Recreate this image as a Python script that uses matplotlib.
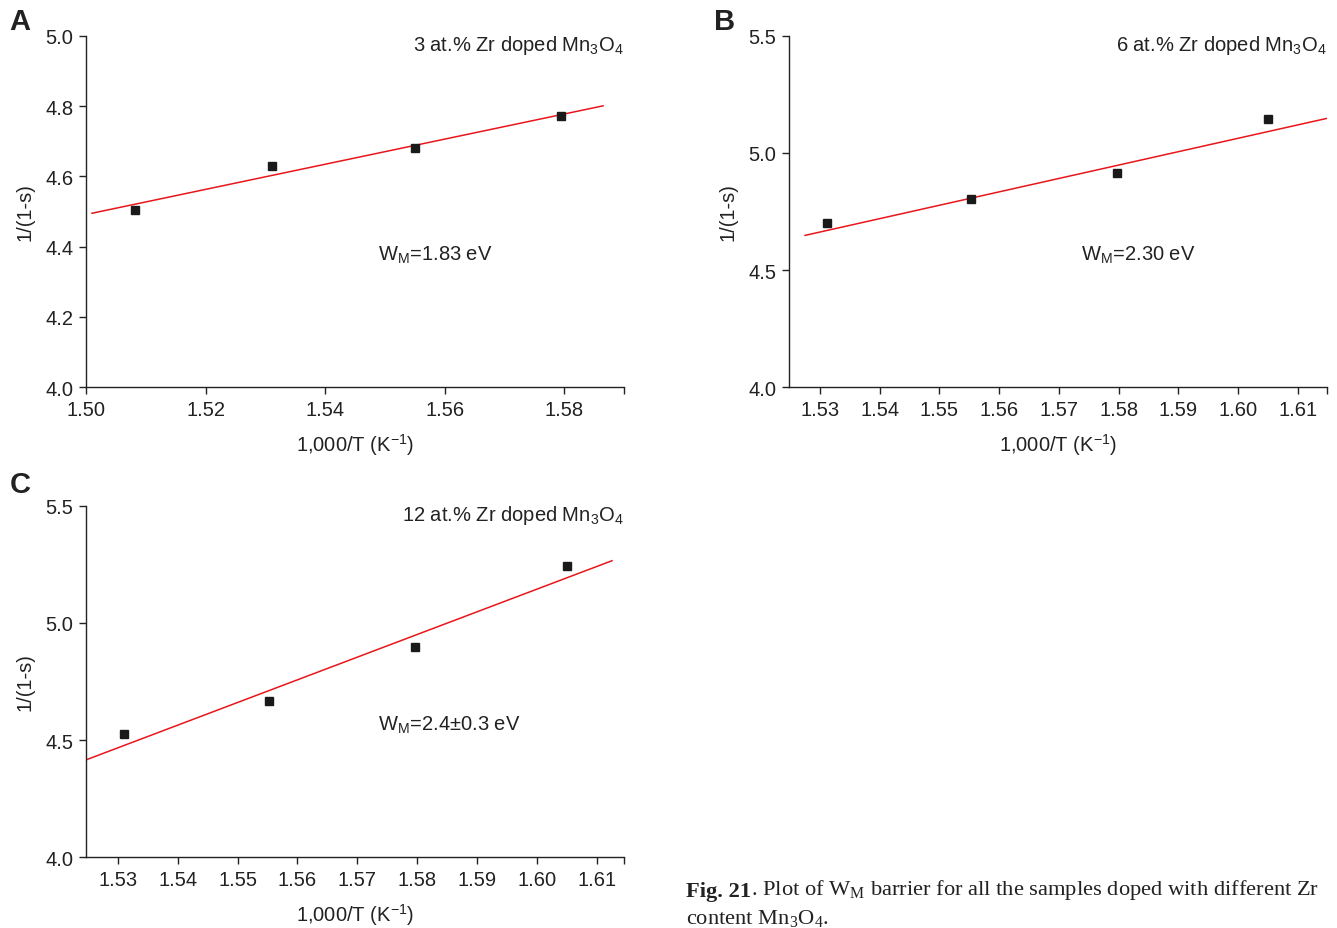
import numpy as np
import matplotlib
matplotlib.use("Agg")
import matplotlib.pyplot as plt
from matplotlib.ticker import FixedLocator

plt.rcParams["font.family"] = ["Liberation Sans", "DejaVu Sans"]
plt.rcParams["mathtext.fontset"] = "custom"
plt.rcParams["mathtext.rm"] = "Liberation Sans"
plt.rcParams["mathtext.it"] = "Liberation Sans"
plt.rcParams["mathtext.default"] = "regular"

# -------------------------------
# Data
# -------------------------------
x_a = [1.5082, 1.5312, 1.5550, 1.5795]
y_a = [4.505, 4.630, 4.682, 4.771]
fit_x_a = [1.501, 1.5865]
fit_y_a = [4.495, 4.801]

x_b = [1.5311, 1.5553, 1.5797, 1.6050]
y_b = [4.701, 4.803, 4.915, 5.145]
fit_x_b = [1.5275, 1.6149]
fit_y_b = [4.648, 5.148]

x_c = [1.5311, 1.5553, 1.5797, 1.6050]
y_c = [4.527, 4.665, 4.897, 5.244]
fit_x_c = [1.5247, 1.6125]
fit_y_c = [4.415, 5.266]

labels = ["A", "B", "C"]
samples = ["3 at.% Zr doped Mn$_3$O$_4$",
           "6 at.% Zr doped Mn$_3$O$_4$",
           "12 at.% Zr doped Mn$_3$O$_4$"]
barriers = ["W$_M$=1.83 eV", "W$_M$=2.30 eV", "W$_M$=2.4\u00b10.3 eV"]

xlims = [(1.50, 1.59), (1.5248, 1.6149), (1.5247, 1.6145)]
ylims = [(4.0, 5.0), (4.0, 5.5), (4.0, 5.5)]
xticks = [np.arange(1.50, 1.581, 0.02), np.arange(1.53, 1.611, 0.01), np.arange(1.53, 1.611, 0.01)]
yticks = [np.arange(4.0, 5.01, 0.2), np.arange(4.0, 5.51, 0.5), np.arange(4.0, 5.51, 0.5)]

fig = plt.figure(figsize=(13.37, 9.29), dpi=100)
ax_a = fig.add_axes([0.0643, 0.5823, 0.4024, 0.3779])
ax_b = fig.add_axes([0.5901, 0.5823, 0.4024, 0.3779])
ax_c = fig.add_axes([0.0643, 0.0764, 0.4024, 0.3779])

panels = [(ax_a, x_a, y_a, fit_x_a, fit_y_a),
          (ax_b, x_b, y_b, fit_x_b, fit_y_b),
          (ax_c, x_c, y_c, fit_x_c, fit_y_c)]

fs = 14.5
for i, (ax, xs, ys, fx, fy) in enumerate(panels):
    ax.plot(fx, fy, color="#e8161b", lw=1.1, zorder=2)
    ax.plot(xs, ys, "s", color="#1a1a1a", ms=6, zorder=3)
    ax.set_xlim(*xlims[i])
    ax.set_ylim(*ylims[i])
    ax.set_xticks(xticks[i])
    ax.set_xticklabels([f"{v:.2f}" for v in xticks[i]])
    ax.set_yticks(yticks[i])
    ax.set_yticklabels([f"{v:.1f}" for v in yticks[i]])
    ax.xaxis.set_minor_locator(FixedLocator([xlims[i][1]]))
    ax.spines["top"].set_visible(False)
    ax.spines["right"].set_visible(False)
    for s in ["left", "bottom"]:
        ax.spines[s].set_linewidth(1.0)
        ax.spines[s].set_color("#222222")
    ax.tick_params(which="both", direction="out", length=5, width=1.0,
                   labelsize=fs, colors="#222222", pad=4)
    ax.set_xlabel("1,000/T (K$^{-1}$)", fontsize=fs, color="#222222", labelpad=9)
    ax.set_ylabel("1/(1-s)", fontsize=fs, color="#222222", labelpad=8)
    ax.text(1.0, 0.975, samples[i], transform=ax.transAxes, ha="right", va="center",
            fontsize=fs, color="#222222")
    ax.text(0.543, 0.379, barriers[i], transform=ax.transAxes, ha="left", va="center",
            fontsize=fs, color="#222222")

fig.text(20 / 1337, 1 - 22 / 929, "A", fontsize=21, fontweight="bold", ha="center", va="center", color="#222222")
fig.text(725 / 1337, 1 - 22 / 929, "B", fontsize=21, fontweight="bold", ha="center", va="center", color="#222222")
fig.text(20 / 1337, 1 - 485 / 929, "C", fontsize=21, fontweight="bold", ha="center", va="center", color="#222222")

# caption
cap_font = ["Liberation Serif", "DejaVu Serif"]
cap_fs = 16.2
plt.rcParams["mathtext.rm"] = "Liberation Serif"
t1 = fig.text(686 / 1337, 1 - 897 / 929, "Fig. 21", fontsize=cap_fs, family=cap_font,
              fontweight="bold", ha="left", va="baseline", color="#222222")
ax_a.annotate(". Plot of W$_M$ barrier for all the samples doped with different Zr",
              xy=(1, 0), xycoords=t1, va="bottom", ha="left",
              fontsize=cap_fs, family=cap_font, color="#222222",
              annotation_clip=False)
fig.text(686 / 1337, 1 - 924 / 929, "content Mn$_3$O$_4$.",
         fontsize=cap_fs, family=cap_font, ha="left", va="baseline", color="#222222")

fig.savefig("out.png", dpi=100)
